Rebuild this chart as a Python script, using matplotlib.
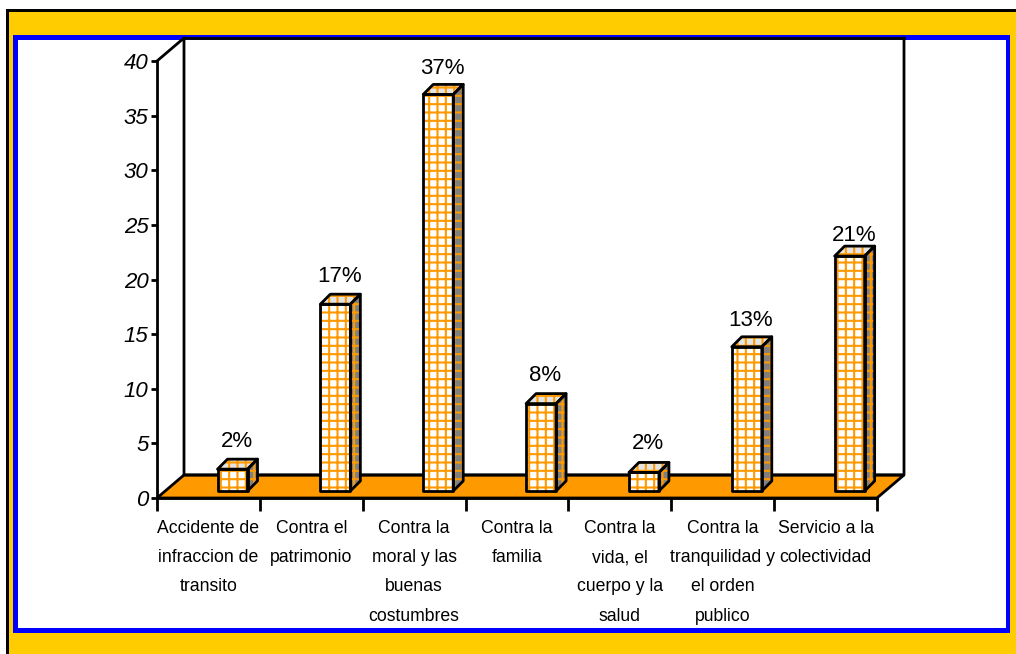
import matplotlib
matplotlib.use("Agg")
import matplotlib.pyplot as plt
from matplotlib.patches import Polygon, Rectangle

plt.rcParams['font.family'] = ['Liberation Sans', 'DejaVu Sans']
plt.rcParams['hatch.linewidth'] = 1.5

categories = [
    "Accidente de\ninfraccion de\ntransito",
    "Contra el\npatrimonio",
    "Contra la\nmoral y las\nbuenas\ncostumbres",
    "Contra la\nfamilia",
    "Contra la\nvida, el\ncuerpo y la\nsalud",
    "Contra la\ntranquilidad y\nel orden\npublico",
    "Servicio a la\ncolectividad",
]
values = [2.0, 17.1, 36.3, 8.0, 1.7, 13.2, 21.5]
labels = ["2%", "17%", "37%", "8%", "2%", "13%", "21%"]
yticks = [0, 5, 10, 15, 20, 25, 30, 35, 40]

W, H = 1016, 654
ORANGE = "#FF9900"
fig = plt.figure(figsize=(W / 100, H / 100), dpi=100, facecolor="white")


def frame(x0, y0, x1, y1, face):
    # pixel box measured from top left of the image
    fig.add_artist(Rectangle((x0 / W, 1 - y1 / H), (x1 - x0) / W, (y1 - y0) / H,
                             transform=fig.transFigure, facecolor=face, edgecolor="none",
                             zorder=-1))


frame(6, 9, W, H, "black")
frame(9, 12, W, H, "#FFCC00")
frame(13, 35, 1010, 633, "#0000FF")
frame(18, 40, 1006, 628, "white")

# axes box = front plane of the 3d chart
ax = fig.add_axes([157 / W, 1 - 498 / H, 720 / W, 437 / H])
ax.patch.set_alpha(0)
ax.set_xlim(0, 7)
ax.set_ylim(0, 40)
px = 7 / 720
py = 40 / 437
dx, dy = 27 * px, 23 * py

ax.add_patch(Polygon([(0, 0), (7, 0), (7 + dx, dy), (dx, dy)], closed=True,
                     facecolor=ORANGE, edgecolor="black", lw=2, clip_on=False, zorder=1))
ax.plot([0, dx, dx, 7 + dx, 7 + dx], [40, 40 + dy, dy, dy, 40 + dy], color="black", lw=2,
        clip_on=False, zorder=1)
ax.plot([dx, 7 + dx], [40 + dy, 40 + dy], color="black", lw=2, clip_on=False, zorder=1)

bar_off = 60.5 * px
bar_w = 30 * px
base = 7 * py
bx, by = 10 * px, 10 * py
# label nudge in points, the original labels do not sit evenly above the bars
label_dy = [20, 20, 18.5, 20.5, 20.5, 19, 14.5]


def face(pts, color):
    ax.add_patch(Polygon(pts, closed=True, facecolor=color, edgecolor=ORANGE, hatch="++",
                         lw=0, clip_on=False, zorder=3))
    ax.add_patch(Polygon(pts, closed=True, fill=False, edgecolor="black", lw=2,
                         joinstyle="round", clip_on=False, zorder=4))


for i, (v, lab) in enumerate(zip(values, labels)):
    x0 = i + bar_off
    x1 = x0 + bar_w
    top = base + v
    face([(x1, base), (x1 + bx, base + by), (x1 + bx, top + by), (x1, top)], "#808080")
    face([(x0, top), (x1, top), (x1 + bx, top + by), (x0 + bx, top + by)], "#E4E4E4")
    face([(x0, base), (x1, base), (x1, top), (x0, top)], "white")
    ax.annotate(lab, xy=((x0 + x1) / 2, top), xytext=(3, label_dy[i]), textcoords="offset points",
                ha="center", va="center", fontsize=16, color="black", zorder=5)

for s in ["top", "right"]:
    ax.spines[s].set_visible(False)
for s in ["left", "bottom"]:
    ax.spines[s].set_linewidth(2)
    ax.spines[s].set_zorder(2)

ax.set_yticks(yticks)
ax.set_yticklabels([str(t) for t in yticks], fontsize=16, style="italic")
ax.tick_params(axis="y", length=4, width=2, pad=2)
ax.set_xticks(range(8))
ax.set_xticklabels([])
ax.tick_params(axis="x", length=9, width=2)
ax.set_xticks([i + 0.5 for i in range(7)], minor=True)
ax.set_xticklabels(categories, minor=True, fontsize=12.7, linespacing=1.96, va="top")
ax.tick_params(axis="x", which="minor", length=0, pad=15.5)

fig.savefig("out.png", dpi=100, facecolor=fig.get_facecolor())
